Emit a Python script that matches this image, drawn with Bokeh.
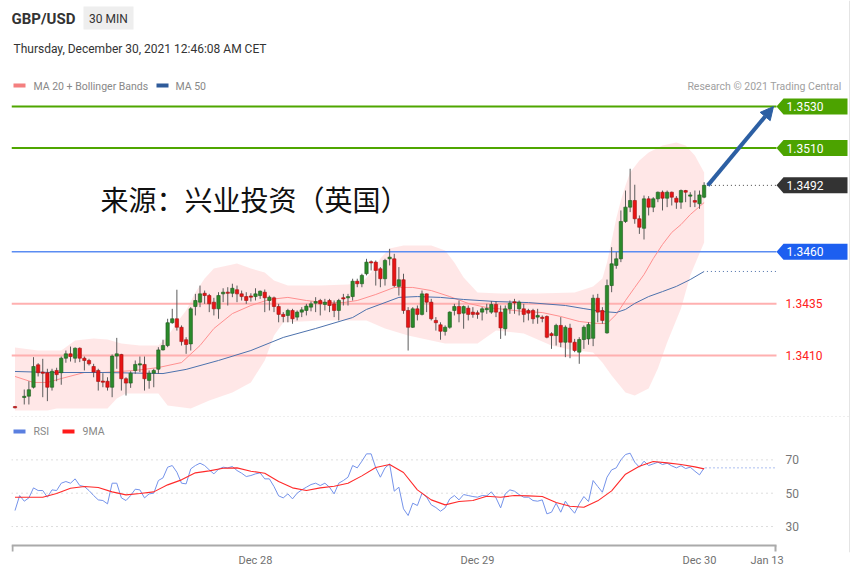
from bokeh.plotting import figure
from bokeh.models import Range1d, FixedTicker, Label, Arrow, NormalHead, ColumnDataSource
from bokeh.embed import file_html
from bokeh.resources import INLINE

# ---------------- data ----------------
pair = "GBP/USD"
timeframe = "30 MIN"
stamp = "Thursday, December 30, 2021 12:46:08 AM CET"
watermark = "来源：兴业投资（英国）"
credit = "Research © 2021 Trading Central"

# 30-minute bar index (bar 1 has no print)
bar_slot = [0] + list(range(2, 150))

bar_open = [
    1.33852, 1.33899, 1.33904, 1.33947, 1.34055, 1.34018, 1.34017, 1.33947, 1.34028, 1.34017,
    1.34087, 1.34108, 1.34087, 1.34135, 1.34087, 1.34076, 1.34047, 1.34028, 1.33975, 1.33976,
    1.33947, 1.34097, 1.34105, 1.33988, 1.33967, 1.34028, 1.34056, 1.34057, 1.33980, 1.34015,
    1.34034, 1.34127, 1.34148, 1.34258, 1.34277, 1.34236, 1.34176, 1.34156, 1.34336, 1.34357,
    1.34400, 1.34389, 1.34357, 1.34325, 1.34397, 1.34405, 1.34400, 1.34417, 1.34397, 1.34384,
    1.34385, 1.34384, 1.34389, 1.34405, 1.34365, 1.34378, 1.34336, 1.34298, 1.34293, 1.34317,
    1.34285, 1.34309, 1.34317, 1.34333, 1.34352, 1.34365, 1.34346, 1.34365, 1.34349, 1.34317,
    1.34378, 1.34378, 1.34384, 1.34458, 1.34446, 1.34494, 1.34550, 1.34550, 1.34518, 1.34470,
    1.34566, 1.34566, 1.34433, 1.34465, 1.34317, 1.34236, 1.34325, 1.34298, 1.34397, 1.34357,
    1.34269, 1.34248, 1.34216, 1.34236, 1.34317, 1.34336, 1.34304, 1.34328, 1.34309, 1.34306,
    1.34309, 1.34322, 1.34309, 1.34346, 1.34309, 1.34229, 1.34325, 1.34357, 1.34325, 1.34325,
    1.34317, 1.34317, 1.34285, 1.34283, 1.34288, 1.34205, 1.34196, 1.34245, 1.34164, 1.34232,
    1.34164, 1.34116, 1.34177, 1.34180, 1.34183, 1.34376, 1.34317, 1.34209, 1.34437, 1.34534,
    1.34566, 1.34746, 1.34815, 1.34847, 1.34759, 1.34713, 1.34855, 1.34815, 1.34855, 1.34887,
    1.34858, 1.34887, 1.34858, 1.34839, 1.34895, 1.34868, 1.34847, 1.34831, 1.34863,
]
bar_high = [
    1.33857, 1.33936, 1.33976, 1.34092, 1.34063, 1.34084, 1.34036, 1.34036, 1.34041, 1.34095,
    1.34124, 1.34143, 1.34139, 1.34139, 1.34095, 1.34084, 1.34060, 1.34036, 1.34015, 1.33995,
    1.34105, 1.34185, 1.34108, 1.33995, 1.34024, 1.34076, 1.34095, 1.34095, 1.34028, 1.34036,
    1.34140, 1.34176, 1.34277, 1.34325, 1.34417, 1.34245, 1.34188, 1.34333, 1.34397, 1.34437,
    1.34413, 1.34397, 1.34378, 1.34405, 1.34424, 1.34429, 1.34446, 1.34437, 1.34413, 1.34405,
    1.34400, 1.34424, 1.34413, 1.34418, 1.34389, 1.34384, 1.34349, 1.34309, 1.34325, 1.34325,
    1.34317, 1.34333, 1.34349, 1.34360, 1.34381, 1.34373, 1.34373, 1.34373, 1.34365, 1.34373,
    1.34397, 1.34397, 1.34470, 1.34470, 1.34494, 1.34566, 1.34558, 1.34558, 1.34526, 1.34566,
    1.34614, 1.34590, 1.34526, 1.34494, 1.34333, 1.34333, 1.34341, 1.34413, 1.34399, 1.34373,
    1.34285, 1.34260, 1.34245, 1.34313, 1.34349, 1.34365, 1.34341, 1.34341, 1.34333, 1.34317,
    1.34333, 1.34349, 1.34362, 1.34362, 1.34341, 1.34341, 1.34365, 1.34373, 1.34365, 1.34349,
    1.34325, 1.34325, 1.34325, 1.34293, 1.34293, 1.34212, 1.34253, 1.34285, 1.34245, 1.34253,
    1.34180, 1.34188, 1.34245, 1.34260, 1.34393, 1.34397, 1.34333, 1.34466, 1.34622, 1.34598,
    1.34799, 1.34895, 1.35000, 1.34923, 1.34775, 1.34871, 1.34868, 1.34863, 1.34890, 1.34895,
    1.34895, 1.34890, 1.34868, 1.34900, 1.34898, 1.34887, 1.34895, 1.34895, 1.34935,
]
bar_low = [
    1.33845, 1.33864, 1.33864, 1.33941, 1.33999, 1.33899, 1.33880, 1.33931, 1.33976, 1.33959,
    1.34065, 1.34071, 1.34065, 1.34068, 1.34028, 1.34052, 1.33995, 1.33931, 1.33947, 1.33931,
    1.33899, 1.34036, 1.33931, 1.33907, 1.33944, 1.34012, 1.34020, 1.33931, 1.33940, 1.33947,
    1.34012, 1.34124, 1.34140, 1.34253, 1.34220, 1.34148, 1.34108, 1.34124, 1.34293, 1.34333,
    1.34349, 1.34309, 1.34293, 1.34277, 1.34357, 1.34341, 1.34381, 1.34357, 1.34365, 1.34349,
    1.34360, 1.34365, 1.34373, 1.34309, 1.34317, 1.34309, 1.34260, 1.34260, 1.34260, 1.34253,
    1.34269, 1.34285, 1.34293, 1.34313, 1.34309, 1.34293, 1.34317, 1.34309, 1.34285, 1.34269,
    1.34341, 1.34341, 1.34365, 1.34429, 1.34429, 1.34486, 1.34510, 1.34437, 1.34429, 1.34437,
    1.34534, 1.34429, 1.34389, 1.34301, 1.34124, 1.34233, 1.34269, 1.34293, 1.34309, 1.34269,
    1.34220, 1.34176, 1.34196, 1.34229, 1.34293, 1.34260, 1.34229, 1.34269, 1.34282, 1.34277,
    1.34269, 1.34301, 1.34301, 1.34285, 1.34180, 1.34196, 1.34301, 1.34301, 1.34293, 1.34260,
    1.34269, 1.34253, 1.34253, 1.34260, 1.34183, 1.34132, 1.34148, 1.34140, 1.34092, 1.34087,
    1.34116, 1.34060, 1.34132, 1.34152, 1.34145, 1.34260, 1.34253, 1.34205, 1.34405, 1.34518,
    1.34550, 1.34739, 1.34791, 1.34735, 1.34686, 1.34659, 1.34775, 1.34791, 1.34839, 1.34799,
    1.34815, 1.34823, 1.34807, 1.34807, 1.34839, 1.34815, 1.34815, 1.34807, 1.34858,
]
bar_close = [
    1.33850, 1.33902, 1.33935, 1.34047, 1.34017, 1.34016, 1.33947, 1.34024, 1.34008, 1.34087,
    1.34108, 1.34095, 1.34135, 1.34087, 1.34076, 1.34060, 1.34020, 1.33975, 1.33973, 1.33947,
    1.34097, 1.34108, 1.33988, 1.33967, 1.34015, 1.34057, 1.34058, 1.33988, 1.34015, 1.34028,
    1.34127, 1.34148, 1.34258, 1.34277, 1.34236, 1.34167, 1.34153, 1.34325, 1.34365, 1.34397,
    1.34389, 1.34349, 1.34325, 1.34389, 1.34405, 1.34400, 1.34424, 1.34397, 1.34384, 1.34365,
    1.34383, 1.34397, 1.34410, 1.34378, 1.34381, 1.34336, 1.34298, 1.34288, 1.34317, 1.34277,
    1.34309, 1.34320, 1.34338, 1.34349, 1.34360, 1.34349, 1.34357, 1.34341, 1.34317, 1.34365,
    1.34373, 1.34384, 1.34458, 1.34446, 1.34486, 1.34550, 1.34548, 1.34510, 1.34470, 1.34558,
    1.34574, 1.34437, 1.34465, 1.34317, 1.34236, 1.34325, 1.34298, 1.34397, 1.34357, 1.34277,
    1.34258, 1.34217, 1.34236, 1.34309, 1.34336, 1.34301, 1.34336, 1.34298, 1.34298, 1.34298,
    1.34325, 1.34325, 1.34346, 1.34309, 1.34233, 1.34325, 1.34352, 1.34355, 1.34357, 1.34298,
    1.34304, 1.34277, 1.34293, 1.34280, 1.34188, 1.34196, 1.34245, 1.34164, 1.34236, 1.34164,
    1.34124, 1.34177, 1.34236, 1.34249, 1.34376, 1.34309, 1.34269, 1.34437, 1.34542, 1.34566,
    1.34746, 1.34815, 1.34847, 1.34759, 1.34718, 1.34855, 1.34815, 1.34855, 1.34887, 1.34858,
    1.34887, 1.34863, 1.34839, 1.34895, 1.34887, 1.34874, 1.34839, 1.34874, 1.34920,
]

# Bollinger envelope and moving averages (sampled bars)
bb_upper_slot = [0, 5, 10, 13, 17, 20, 23, 27, 31, 33, 35, 37, 39, 41, 43, 46, 48, 51, 54, 56,
                 59, 66, 72, 75, 77, 79, 81, 84, 90, 93, 95, 97, 100, 105, 113, 121, 125, 127, 128, 129,
                 130, 131, 132, 133, 135, 137, 140, 143, 145, 147, 149]
bb_upper = [1.34139, 1.34124, 1.34124, 1.34172, 1.34182, 1.34177, 1.34158, 1.34148, 1.34148, 1.34192,
            1.34259, 1.34317, 1.34404, 1.34471, 1.34519, 1.34534, 1.34543, 1.34519, 1.34500, 1.34461,
            1.34437, 1.34437, 1.34442, 1.34452, 1.34500, 1.34567, 1.34616, 1.34630, 1.34630, 1.34606,
            1.34548, 1.34476, 1.34404, 1.34399, 1.34399, 1.34404, 1.34433, 1.34471, 1.34548, 1.34654,
            1.34760, 1.34847, 1.34919, 1.34982, 1.35040, 1.35078, 1.35112, 1.35126, 1.35112, 1.35064,
            1.34982]
bb_lower_slot = [0, 7, 9, 20, 22, 24, 31, 33, 38, 42, 47, 51, 54, 56, 58, 66, 76, 80, 85, 93,
                 100, 104, 110, 116, 120, 125, 127, 129, 132, 134, 137, 139, 141, 144, 146, 149]
bb_lower = [1.33835, 1.33835, 1.33845, 1.33845, 1.33893, 1.33917, 1.33917, 1.33859, 1.33845, 1.33883,
            1.33922, 1.33970, 1.34076, 1.34196, 1.34259, 1.34269, 1.34269, 1.34230, 1.34196, 1.34158,
            1.34158, 1.34220, 1.34206, 1.34148, 1.34129, 1.34114, 1.34066, 1.34004, 1.33922, 1.33907,
            1.33941, 1.34037, 1.34163, 1.34326, 1.34486, 1.34645]
ma20_slot = [0, 4, 7, 10, 15, 19, 26, 31, 36, 40, 43, 47, 51, 55, 59, 63, 67, 71, 74, 78,
             82, 86, 90, 94, 98, 102, 106, 110, 114, 118, 122, 126, 128, 130, 132, 134, 136, 138, 140, 142,
             144, 146, 148, 149]
ma20 = [1.33999, 1.33970, 1.33970, 1.33989, 1.34018, 1.34018, 1.34028, 1.34042, 1.34066, 1.34148,
        1.34230, 1.34302, 1.34341, 1.34370, 1.34380, 1.34365, 1.34355, 1.34355, 1.34365, 1.34394,
        1.34428, 1.34428, 1.34413, 1.34384, 1.34351, 1.34331, 1.34322, 1.34312, 1.34307, 1.34288,
        1.34264, 1.34254, 1.34254, 1.34298, 1.34365, 1.34428, 1.34490, 1.34567, 1.34635, 1.34693,
        1.34731, 1.34779, 1.34818, 1.34837]
ma50_slot = [0, 8, 19, 32, 37, 44, 51, 58, 65, 73, 76, 80, 83, 87, 92, 97, 104, 111, 119, 123,
             127, 130, 132, 134, 137, 140, 143, 146, 149]
ma50 = [1.34023, 1.34018, 1.34018, 1.34013, 1.34033, 1.34076, 1.34124, 1.34187, 1.34230, 1.34283,
        1.34322, 1.34355, 1.34380, 1.34384, 1.34380, 1.34370, 1.34360, 1.34355, 1.34341, 1.34326,
        1.34312, 1.34307, 1.34322, 1.34351, 1.34384, 1.34408, 1.34433, 1.34466, 1.34505]

# RSI per bar and its 9-period average (sampled)
rsi_slot = list(range(0, 150))
rsi = [
    39.6, 48.6, 45.2, 47.2, 53.2, 51.6, 51.6, 47.6, 52.0, 51.6,
    56.0, 57.0, 56.0, 58.6, 54.6, 54.0, 51.6, 48.6, 46.0, 45.6,
    43.6, 56.0, 56.0, 47.2, 45.6, 48.6, 52.4, 52.0, 47.2, 49.6,
    50.0, 57.6, 59.2, 65.6, 66.6, 62.6, 56.0, 55.6, 64.6, 66.6,
    68.0, 66.6, 64.0, 61.6, 64.4, 65.6, 65.2, 66.0, 63.6, 62.0,
    60.0, 60.6, 61.6, 62.2, 58.6, 58.6, 54.0, 48.4, 47.2, 49.6,
    46.6, 50.0, 52.0, 53.6, 55.2, 56.0, 54.6, 56.0, 53.6, 49.6,
    56.0, 57.6, 59.6, 66.6, 65.2, 69.2, 73.6, 73.6, 65.2, 59.6,
    65.2, 67.6, 51.2, 53.6, 40.6, 36.6, 44.0, 42.6, 50.0, 47.6,
    43.0, 41.4, 39.2, 41.2, 46.6, 48.6, 46.0, 49.2, 48.6, 48.0,
    47.6, 48.6, 48.4, 50.8, 47.2, 41.2, 49.6, 52.0, 51.2, 49.2,
    47.6, 47.6, 45.6, 45.2, 46.0, 37.6, 38.6, 44.0, 38.6, 45.2,
    41.2, 38.0, 43.6, 48.0, 45.0, 57.6, 54.0, 50.6, 59.6, 64.0,
    65.2, 70.0, 73.2, 74.0, 68.6, 65.6, 69.2, 66.6, 67.6, 68.6,
    67.2, 68.0, 66.4, 65.2, 66.5, 64.8, 65.6, 63.2, 61.0, 65.2,
]
rsi_ma_slot = list(range(0, 148, 3)) + [149]
rsi_ma = [47.6, 47.6, 47.6, 49.8, 53.0, 54.0, 53.4, 50.8, 49.0, 49.8,
          50.8, 55.0, 58.0, 62.2, 63.4, 65.0, 65.2, 63.2, 62.0, 57.0,
          53.2, 51.6, 53.2, 54.2, 56.0, 60.4, 65.4, 67.2, 62.4, 52.0,
          46.0, 43.0, 45.0, 45.6, 48.2, 47.6, 48.6, 48.4, 48.0, 44.4,
          42.2, 41.6, 45.4, 51.4, 61.4, 66.2, 69.0, 68.2, 67.2, 65.8,
          64.6]

# key levels
target_levels = [1.3530, 1.3510]
pivot_levels = [1.3460]
support_levels = [1.3435, 1.3410]
rsi_levels = [70, 50, 30]

day_tick_slot = [52, 100, 148, 162.6]
day_tick_label = ["Dec 28", "Dec 29", "Dec 30", "Jan 13"]

# ---------------- layout ----------------
W, H = 859, 571
FL, FR, FT, FB = 11, 850, 0, 552          # frame edges (px)
SLOT0_PX, SLOT_PX = 14.5, 4.625            # bar 0 centre and bar spacing
P_REF, P_REF_PX, PX_PER_PRICE = 1.3410, 355.0, 20750.0
RSI_MID_PX, PX_PER_RSI = 492.7, 1.667
LINE_END = 776                             # right end of the price / oscillator area
FONT = "Roboto"


def sx(px):
    return (px - SLOT0_PX) / SLOT_PX


def sy(py):
    return P_REF + (P_REF_PX - py) / PX_PER_PRICE


x_range = Range1d(sx(FL), sx(FR))
y_range = Range1d(sy(FB), sy(FT))
rsi_range = Range1d(50 - (FB - RSI_MID_PX) / PX_PER_RSI, 50 + (RSI_MID_PX - FT) / PX_PER_RSI)

p = figure(width=W, height=H, x_range=x_range, y_range=y_range, title=None,
           output_backend="svg", toolbar_location=None, y_axis_location=None,
           min_border_left=FL, min_border_right=W - FR, min_border_top=FT,
           min_border_bottom=H - FB)
p.extra_y_ranges = {"rsi": rsi_range}
p.outline_line_color = None
p.grid.visible = False
p.background_fill_color = "white"
p.border_fill_color = "white"

ax = p.xaxis[0]
ax.ticker = FixedTicker(ticks=day_tick_slot)
ax.major_label_overrides = {t: s for t, s in zip(day_tick_slot, day_tick_label)}
ax.axis_line_color = None
ax.major_tick_line_color = None
ax.minor_tick_line_color = None
ax.major_tick_in = 0
ax.major_tick_out = 0
ax.major_label_standoff = 1
ax.major_label_text_font = FONT
ax.major_label_text_font_size = "11px"
ax.major_label_text_color = "#707070"


def label(px, py, text, size="11px", color="#888888", align="left", style="normal",
          font=FONT, **kw):
    p.add_layout(Label(x=sx(px), y=sy(py), text=text, text_font=font, text_font_size=size,
                       text_color=color, text_align=align, text_baseline="middle",
                       text_font_style=style, **kw))


def box(px0, px1, py0, py1, color):
    p.quad(left=sx(px0), right=sx(px1), top=sy(py0), bottom=sy(py1),
           fill_color=color, line_color=None)


# ---- header ----
label(11, 18, pair, size="15px", color="#333333", style="bold")
box(83, 133, 6, 29, "#eeeeee")
label(108, 18, timeframe, size="12px", color="#333333", align="center")
label(13, 48, stamp, size="12px", color="#333333")

# ---- legends ----
box(13, 25, 83, 87, "#f47f7f")
label(33, 85.5, "MA 20 + Bollinger Bands", size="10.5px")
box(156, 168, 83, 87, "#2f5b9a")
label(175, 85.5, "MA 50", size="10.5px")
label(841, 85.5, credit, size="10.5px", color="#a0a0a0", align="right")

# ---- Bollinger envelope ----
p.patch(x=bb_upper_slot + bb_lower_slot[::-1], y=bb_upper + bb_lower[::-1],
        fill_color="#ffdede", fill_alpha=0.72, line_color=None)

# ---- key levels ----
x_left, x_right = sx(FL), sx(LINE_END)
p.segment(x0=[x_left] * 2, x1=[x_right] * 2, y0=target_levels, y1=target_levels,
          line_color="#4fa600", line_width=2)
p.segment(x0=[x_left], x1=[x_right], y0=pivot_levels, y1=pivot_levels,
          line_color="#5a8cf2", line_width=1.6)
p.segment(x0=[x_left] * 2, x1=[x_right] * 2, y0=support_levels, y1=support_levels,
          line_color="#ffb0b0", line_width=2)

# ---- moving averages ----
p.line(ma20_slot, ma20, line_color="#ff9090", line_width=1)
p.line(ma50_slot, ma50, line_color="#4d72ad", line_width=1)

# ---- candles ----
min_body = 1.2 / PX_PER_PRICE
tops, bottoms, fills, edges = [], [], [], []
for o, c in zip(bar_open, bar_close):
    hi, lo = max(o, c), min(o, c)
    if hi - lo < min_body:
        mid = (hi + lo) / 2
        hi, lo = mid + min_body / 2, mid - min_body / 2
    tops.append(hi)
    bottoms.append(lo)
    up = c >= o
    fills.append("#2b8a2b" if up else "#e81414")
    edges.append("#1c5a1c" if up else "#a01010")
src = ColumnDataSource(dict(slot=bar_slot, high=bar_high, low=bar_low, top=tops,
                            bottom=bottoms, fill=fills, edge=edges))
p.segment(x0="slot", x1="slot", y0="low", y1="high", source=src,
          line_color="#5c5c5c", line_width=1)
p.vbar(x="slot", width=0.72, top="top", bottom="bottom", fill_color="fill",
       line_color="edge", line_width=0.6, source=src)

# ---- extensions from the last bar ----
x_ext = bar_slot[-1] + 0.6
last_close = bar_close[-1]
p.segment(x0=[x_ext], x1=[x_right], y0=[last_close], y1=[last_close],
          line_color="#444444", line_width=1, line_dash="1 3")
p.segment(x0=[x_ext], x1=[x_right], y0=[ma50[-1]], y1=[ma50[-1]],
          line_color="#4a6ea8", line_width=1, line_dash="1 3")

# ---- price tags ----
half = 8 / PX_PER_PRICE


def tag(level, color):
    p.patch(x=[sx(LINE_END), sx(783), sx(847), sx(847), sx(783)],
            y=[level, level + half, level + half, level - half, level - half],
            fill_color=color, line_color=None)
    p.add_layout(Label(x=sx(786), y=level, text=f"{level:.4f}", text_font=FONT,
                       text_font_size="12px", text_color="white", text_baseline="middle"))


for lv in target_levels:
    tag(lv, "#4ca300")
for lv in pivot_levels:
    tag(lv, "#1d5ff0")
tag(last_close, "#333333")
for lv in support_levels:
    p.add_layout(Label(x=sx(785), y=lv, text=f"{lv:.4f}", text_font=FONT,
                       text_font_size="12px", text_color="#ff2020", text_baseline="middle"))

# ---- projected move ----
p.add_layout(Arrow(end=NormalHead(size=13, fill_color="#2c5fa3", line_color="#2c5fa3"),
                   x_start=x_ext + 0.2, y_start=last_close, x_end=sx(773), y_end=target_levels[0],
                   line_color="#2c5fa3", line_width=4))

# ---- watermark ----
label(100, 198, watermark, size="28px", color="#111111", font="Noto Sans CJK SC")

# ---- panel separator ----
p.segment(x0=[x_left], x1=[sx(849)], y0=[sy(416)], y1=[sy(416)],
          line_color="#dddddd", line_width=1, line_dash="1 3")

# ---- RSI panel ----
box(13, 25, 429, 433, "#5a7fe0")
label(33, 431, "RSI", size="10.5px")
box(62, 74, 429, 433, "#ff1a1a")
label(82, 431, "9MA", size="10.5px")

p.segment(x0=[x_left] * 3, x1=[x_right] * 3, y0=rsi_levels, y1=rsi_levels,
          line_color="#bbbbbb", line_width=1, line_dash="1 4", y_range_name="rsi")
for lv in rsi_levels:
    p.add_layout(Label(x=sx(785), y=lv, text=str(lv), text_font=FONT, text_font_size="12px",
                       text_color="#777777", text_baseline="middle", y_range_name="rsi"))
p.line(rsi_slot, rsi, line_color="#7593ea", line_width=1, y_range_name="rsi")
p.line(rsi_ma_slot, rsi_ma, line_color="#ff2a2a", line_width=1.1, y_range_name="rsi")
p.segment(x0=[rsi_slot[-1] + 0.3], x1=[x_right], y0=[rsi[-1]], y1=[rsi[-1]],
          line_color="#5a7fe0", line_width=1, line_dash="1 3", y_range_name="rsi")

# ---- time axis baseline ----
p.segment(x0=[x_left], x1=[x_right], y0=[sy(545)], y1=[sy(545)],
          line_color="#aaaaaa", line_width=2)
p.segment(x0=[sx(12), sx(775)], x1=[sx(12), sx(775)], y0=[sy(545)] * 2, y1=[sy(551)] * 2,
          line_color="#aaaaaa", line_width=2)

# ---- right border ----
p.segment(x0=[sx(849)], x1=[sx(849)], y0=[sy(0)], y1=[sy(FB)],
          line_color="#e4e4e4", line_width=1)

open("out.html", "w").write(file_html(p, INLINE))
